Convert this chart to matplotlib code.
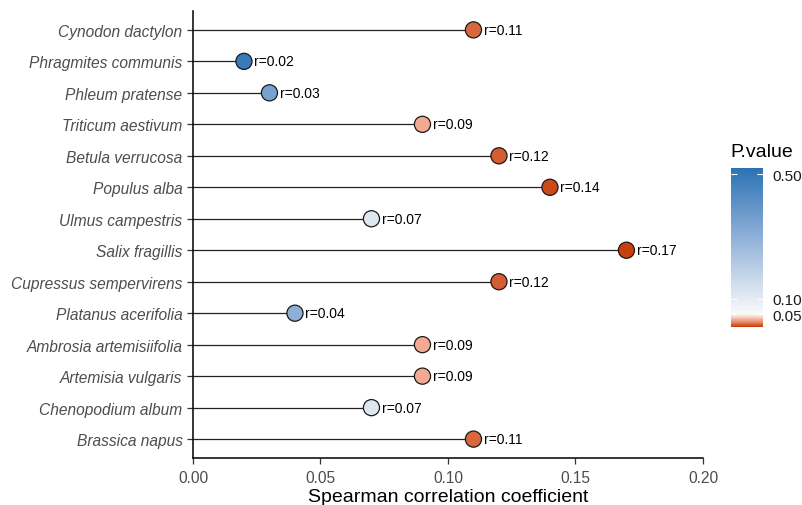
import matplotlib
matplotlib.use('Agg')
import matplotlib.pyplot as plt
from matplotlib.colors import LinearSegmentedColormap, Normalize
from matplotlib.cm import ScalarMappable

plt.rcParams['font.family'] = ['Liberation Sans', 'DejaVu Sans']

species = ["Cynodon dactylon", "Phragmites communis", "Phleum pratense",
           "Triticum aestivum", "Betula verrucosa", "Populus alba",
           "Ulmus campestris", "Salix fragillis", "Cupressus sempervirens",
           "Platanus acerifolia", "Ambrosia artemisiifolia", "Artemisia vulgaris",
           "Chenopodium album", "Brassica napus"]
rho = [0.11, 0.02, 0.03, 0.09, 0.12, 0.14, 0.07, 0.17, 0.12, 0.04, 0.09, 0.09, 0.07, 0.11]
pval = [0.019, 0.49, 0.35, 0.033, 0.016, 0.012, 0.115, 0.010, 0.016, 0.30, 0.033, 0.033, 0.115, 0.019]

pmin, pmid, pmax = 0.01, 0.05, 0.52
cbar_ticks = [0.05, 0.10, 0.50]

pos_mid = (pmid - pmin) / (pmax - pmin)
cmap = LinearSegmentedColormap.from_list(
    "pv", [(0.0, "#C8400E"), (pos_mid * 0.5, "#F1A286"), (pos_mid, "#FAFAFA"),
           (pos_mid + (1 - pos_mid) * 0.5, "#94B4DA"), (1.0, "#2C72B3")])
norm = Normalize(vmin=pmin, vmax=pmax)

fig = plt.figure(figsize=(8.03, 5.06), dpi=100)
ax = fig.add_axes([0.2403, 0.0929, 0.6351, 0.8834])

n = len(species)
ypos = [n - i for i in range(n)]

for y, r in zip(ypos, rho):
    ax.plot([0, r], [y, y], color="#222222", lw=0.9, zorder=1)
ax.scatter(rho, ypos, c=pval, cmap=cmap, norm=norm, s=135,
           edgecolors="#1a1a1a", linewidths=0.9, zorder=3)
for y, r in zip(ypos, rho):
    ax.annotate("r=%.2f" % r, (r, y), xytext=(7.5, 0), textcoords="offset points",
                va="center", ha="left", fontsize=10, color="black")

ax.set_xlim(0, 0.2)
ax.set_ylim(0.4, n + 0.6)
ax.set_xticks([0.0, 0.05, 0.10, 0.15, 0.20])
ax.set_xticklabels(["0.00", "0.05", "0.10", "0.15", "0.20"])
ax.set_yticks(ypos)
ax.set_yticklabels(species, style="italic")
ax.tick_params(axis="both", colors="#333333", labelcolor="#4D4D4D",
               labelsize=11.2, length=4, width=0.9)
ax.tick_params(axis="x", pad=5)
for side in ["top", "right"]:
    ax.spines[side].set_visible(False)
for side in ["left", "bottom"]:
    ax.spines[side].set_linewidth(1.1)
    ax.spines[side].set_color("black")
ax.set_xlabel("Spearman correlation coefficient", fontsize=14, labelpad=2)

cax = fig.add_axes([0.910, 0.352, 0.040, 0.314])
cb = fig.colorbar(ScalarMappable(norm=norm, cmap=cmap), cax=cax)
cb.outline.set_visible(False)
cb.set_ticks(cbar_ticks)
cb.set_ticklabels(["0.05", "0.10", "0.50"])
cax.tick_params(left=True, right=True, direction="in", color="white",
                length=4, width=0.8, labelsize=11, labelcolor="#1a1a1a", pad=7)
cax.set_title("P.value", fontsize=14, loc="left", pad=9)

fig.savefig("out.png", dpi=100)
